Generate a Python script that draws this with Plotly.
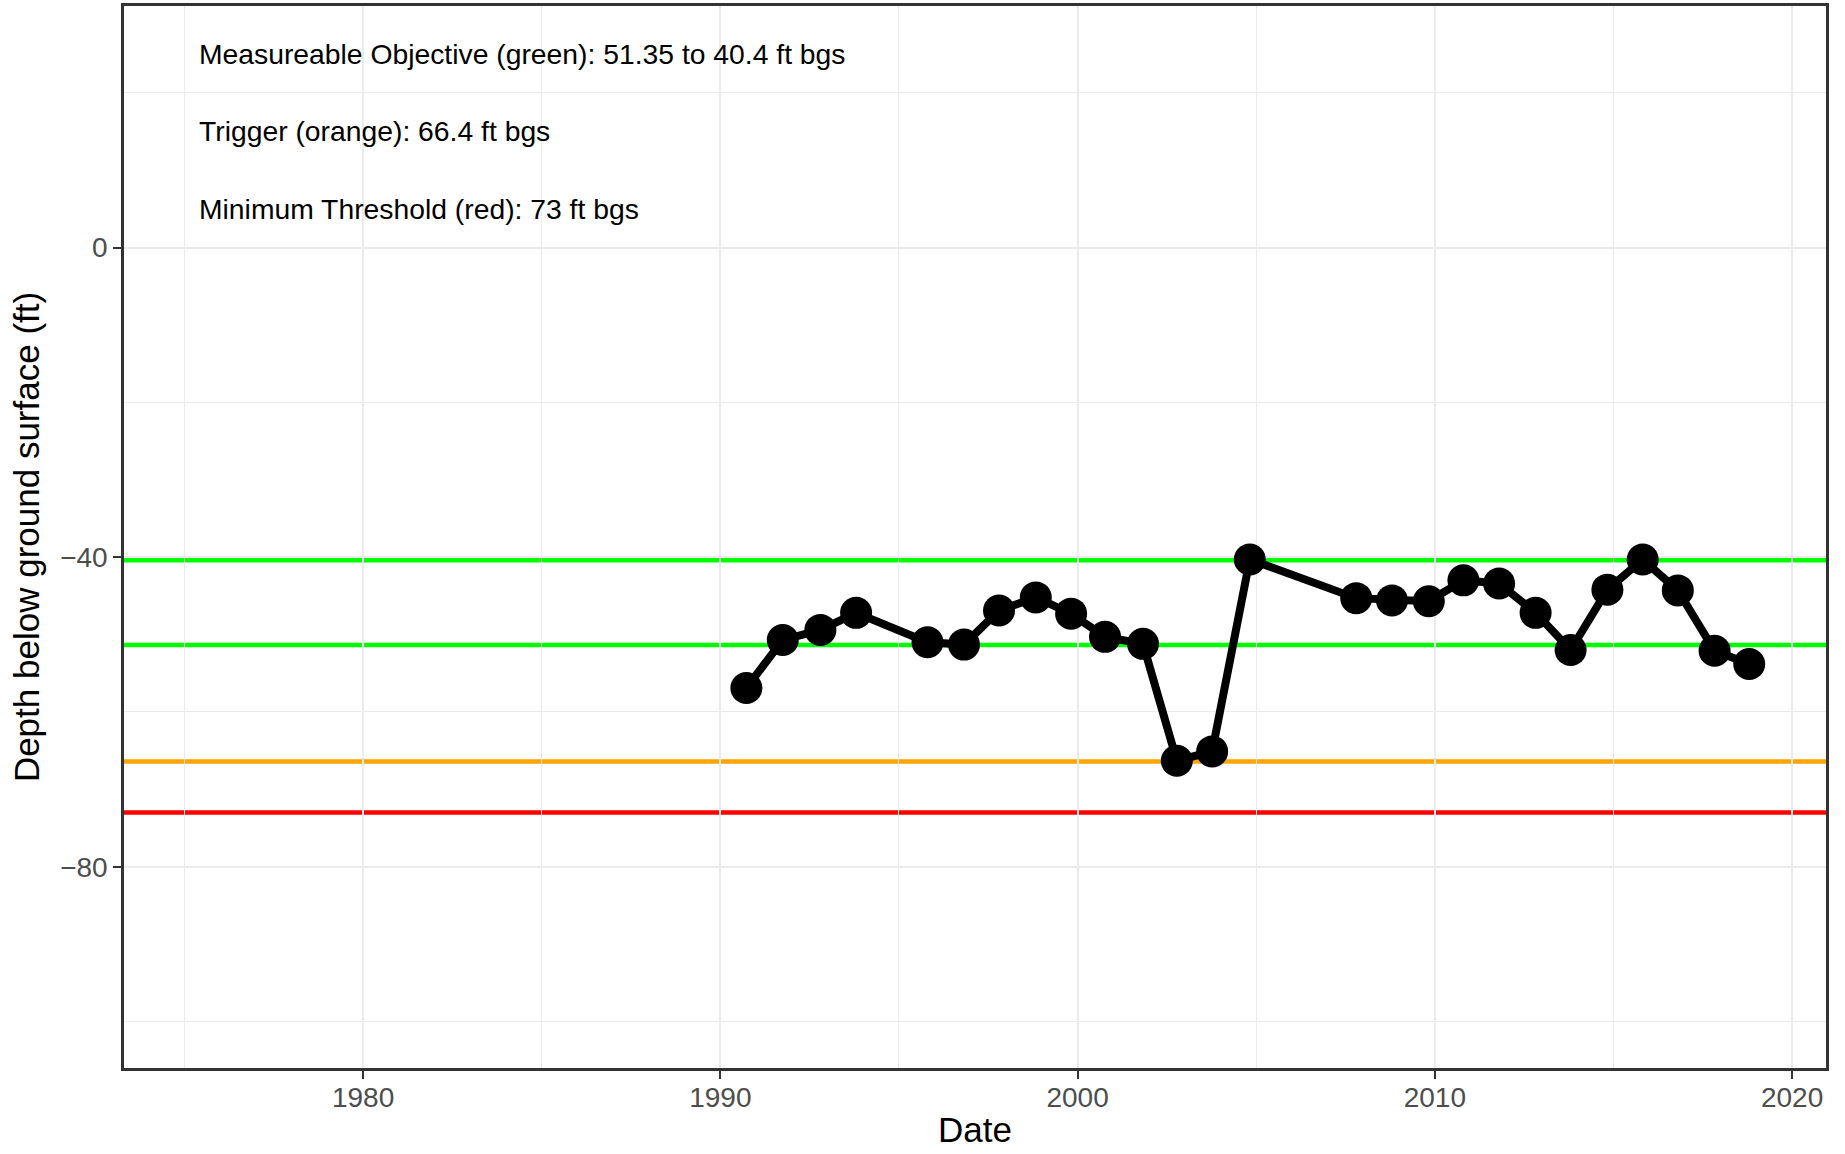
import plotly.graph_objects as go

# Groundwater depth readings (ft below ground surface, negative = down)
dates = [
    "1990-09-24", "1991-10-01", "1992-10-20", "1993-10-20", "1995-10-20",
    "1996-10-27", "1997-10-20", "1998-10-31", "1999-10-27", "2000-10-08",
    "2001-10-31", "2002-10-12", "2003-10-08", "2004-10-27", "2007-10-20",
    "2008-10-20", "2009-10-31", "2010-10-20", "2011-10-20", "2012-10-27",
    "2013-10-20", "2014-10-31", "2015-10-27", "2016-10-20", "2017-10-31",
    "2018-10-20",
]
depths = [
    -56.9, -50.7, -49.4, -47.2, -51.0,
    -51.3, -46.9, -45.2, -47.3, -50.3,
    -51.2, -66.3, -65.1, -40.3, -45.3,
    -45.6, -45.7, -43.0, -43.4, -47.2,
    -52.0, -44.2, -40.3, -44.3, -52.1,
    -53.8,
]

# Sustainability thresholds
threshold_values = [-40.4, -51.35, -66.4, -73.0]
threshold_colors = ["#00FF00", "#00FF00", "#FFA500", "#FF0000"]

# Annotation labels and their y positions
note_texts = [
    "Measureable Objective (green): 51.35 to 40.4 ft bgs",
    "Trigger (orange): 66.4 ft bgs",
    "Minimum Threshold (red): 73 ft bgs",
]
note_y = [25, 15, 5]
note_x = "1975-05-10"

FONT = "Liberation Sans, Arial, Helvetica, sans-serif"

fig = go.Figure()

for val, col in zip(threshold_values, threshold_colors):
    fig.add_hline(y=val, line=dict(color=col, width=4.5), layer="below")

fig.add_trace(go.Scatter(
    x=dates,
    y=depths,
    mode="lines+markers",
    line=dict(color="black", width=8),
    marker=dict(size=32, color="black"),
    showlegend=False,
))

for txt, yv in zip(note_texts, note_y):
    fig.add_annotation(
        x=note_x, y=yv, text=txt, showarrow=False,
        xanchor="left", yanchor="middle",
        font=dict(size=28.3, color="black", family=FONT),
    )

axis_common = dict(
    ticks="outside",
    ticklen=8,
    tickwidth=2,
    tickcolor="#333333",
    tickfont=dict(size=28, color="#4D4D4D"),
    showgrid=True,
    gridcolor="#EBEBEB",
    gridwidth=2,
    showline=True,
    mirror=True,
    linecolor="#333333",
    linewidth=2.5,
    zeroline=False,
    automargin=False,
)

fig.update_layout(
    width=1845,
    height=1154,
    margin=dict(l=124, r=19, t=6, b=86),
    paper_bgcolor="white",
    plot_bgcolor="white",
    font=dict(family=FONT),
    xaxis=dict(
        type="date",
        range=["1973-04-23", "2020-12-13"],
        tick0="1980-01-01",
        dtick="M120",
        tickformat="%Y",
        ticklabelstandoff=-5,
        minor=dict(dtick="M60", tick0="1975-01-01", showgrid=True,
                   gridcolor="#EBEBEB", gridwidth=1),
        title=dict(text="Date", font=dict(size=35, color="black"), standoff=6),
        **axis_common,
    ),
    yaxis=dict(
        range=[-106.0, 31.2],
        tick0=0,
        dtick=40,
        minor=dict(dtick=20, showgrid=True, gridcolor="#EBEBEB", gridwidth=1),
        title=dict(text="Depth below ground surface (ft)",
                   font=dict(size=35, color="black"), standoff=10),
        **axis_common,
    ),
)

# drop the default page margin so the figure sits at the window's top-left
fig.write_html("out.html", config={"displayModeBar": False},
               post_script="document.body.style.margin='0';")
